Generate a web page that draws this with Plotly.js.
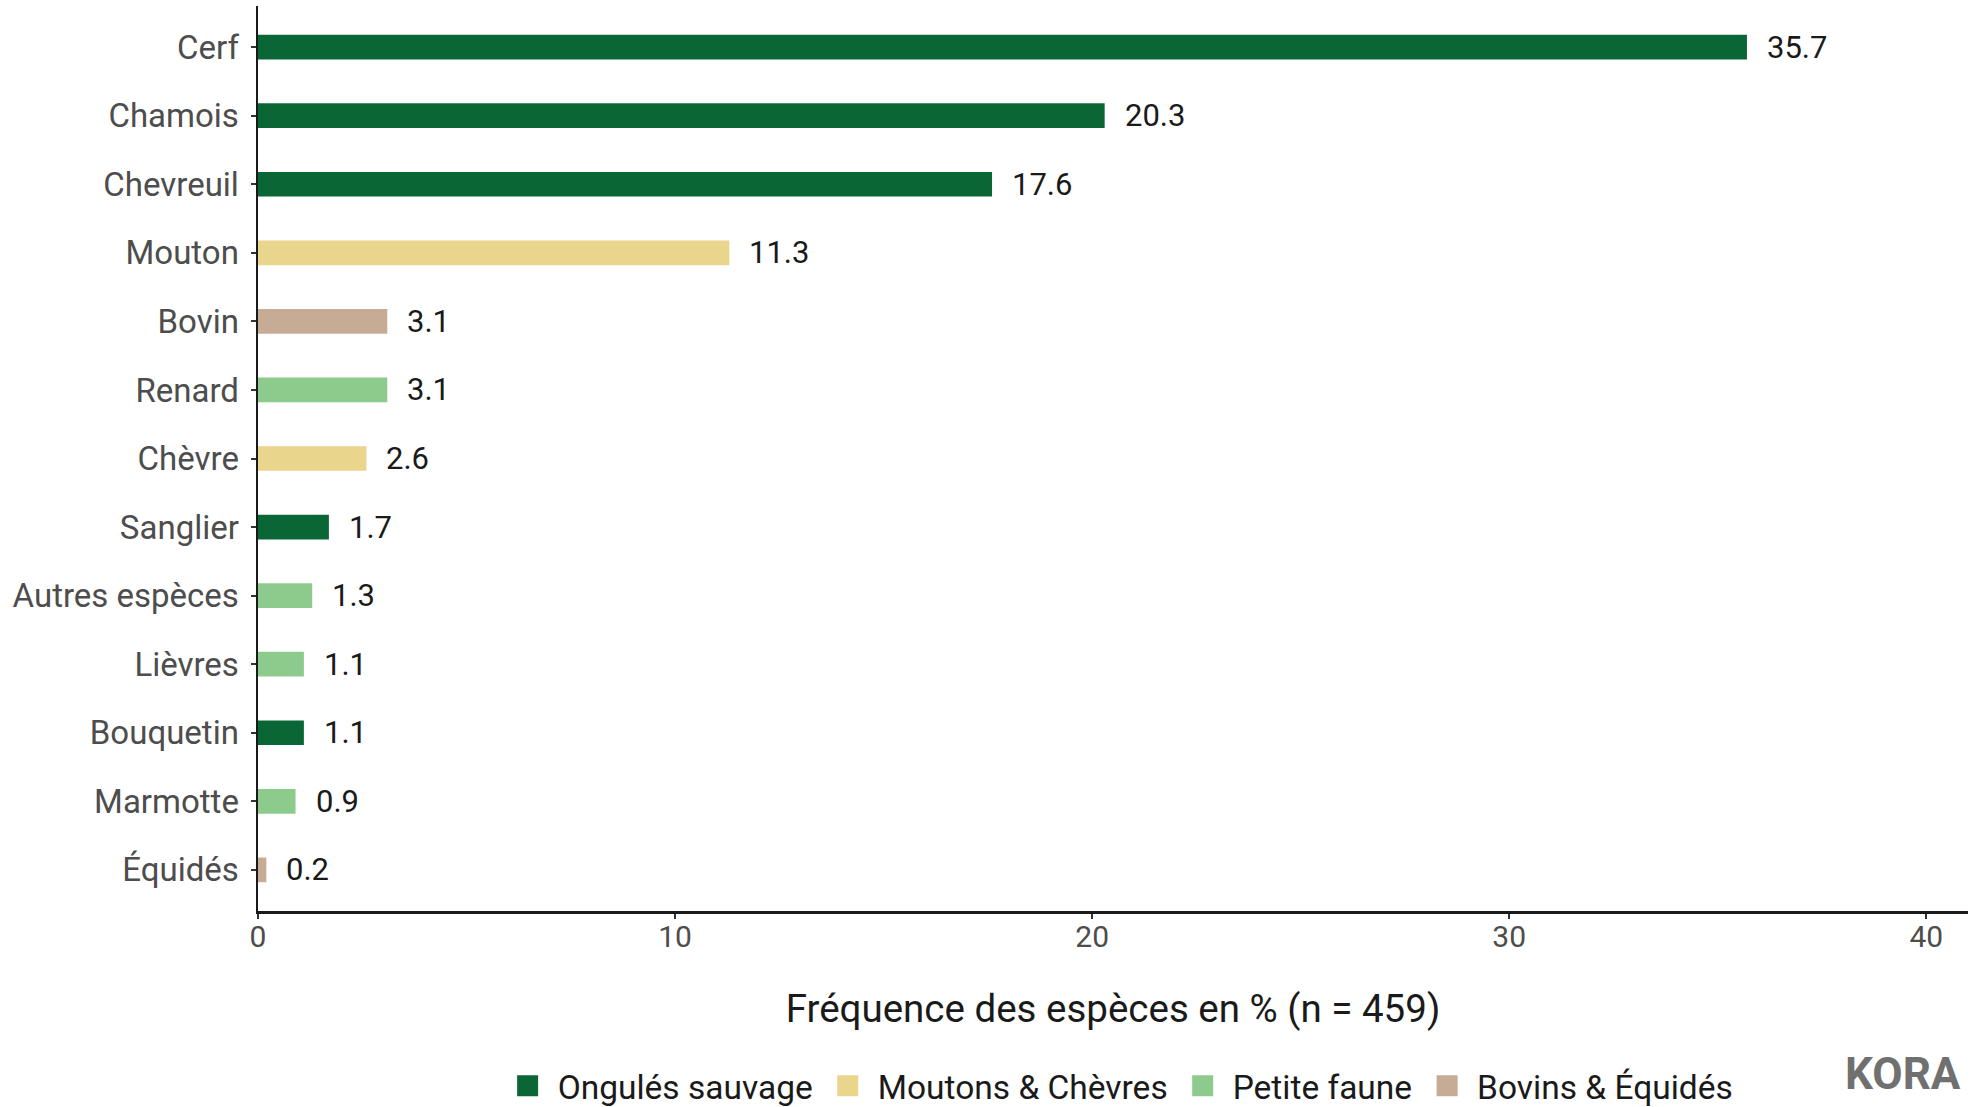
<!DOCTYPE html>
<html>
<head>
<meta charset="utf-8">
<script src="https://cdn.plot.ly/plotly-3.0.1.min.js"></script>
<style>html,body{margin:0;padding:0;background:#fff;}#chart{width:1975px;height:1107px;}</style>
</head>
<body>
<div id="chart"></div>
<script>
// Data (top to bottom)
const categories = ["Cerf","Chamois","Chevreuil","Mouton","Bovin","Renard","Chèvre","Sanglier","Autres espèces","Lièvres","Bouquetin","Marmotte","Équidés"];
const values = [35.7, 20.3, 17.6, 11.3, 3.1, 3.1, 2.6, 1.7, 1.3, 1.1, 1.1, 0.9, 0.2];
const groupOf = ["Ongulés sauvage","Ongulés sauvage","Ongulés sauvage","Moutons & Chèvres","Bovins & Équidés","Petite faune","Moutons & Chèvres","Ongulés sauvage","Petite faune","Petite faune","Ongulés sauvage","Petite faune","Bovins & Équidés"];
const groups = ["Ongulés sauvage","Moutons & Chèvres","Petite faune","Bovins & Équidés"];
const groupColors = ["#0b6636","#e9d58b","#8ccb8c","#c6ab95"];
const xTicks = [0,10,20,30,40];
const xTitle = "Fréquence des espèces en % (n = 459)";

const font = "Roboto, 'Open Sans', sans-serif";

const barTraces = groups.map((g, gi) => {
  const ys = [], xs = [];
  categories.forEach((c, i) => { if (groupOf[i] === g) { ys.push(c); xs.push(values[i]); } });
  return {
    type: "bar", orientation: "h", name: g, x: xs, y: ys,
    width: 0.36, legendgroup: g, showlegend: false,
    marker: {color: groupColors[gi], line: {width: 0}},
    hoverinfo: "x+y"
  };
});
// legend-only entries (larger square keys)
const legendTraces = groups.map((g, gi) => ({
  type: "scatter", mode: "markers", name: g, legendgroup: g,
  x: [null], y: [null], showlegend: true, hoverinfo: "skip",
  marker: {symbol: "square", size: 30, color: groupColors[gi], line: {width: 5, color: groupColors[gi]}}
}));

const annotations = categories.map((c, i) => ({
  x: values[i], y: c, xref: "x", yref: "y",
  text: values[i].toFixed(1), showarrow: false,
  xanchor: "left", yanchor: "middle", xshift: 18,
  font: {family: font, size: 31, color: "#1a1a1a"}
}));
annotations.push({
  xref: "paper", yref: "paper", x: 0.997, y: -0.18, xanchor: "right", yanchor: "middle",
  text: "<b>KORA</b>", showarrow: false,
  font: {family: font, size: 44, color: "#707070"}
});

const layout = {
  width: 1975, height: 1107,
  margin: {l: 258, r: 7, t: 6, b: 196},
  paper_bgcolor: "#ffffff", plot_bgcolor: "#ffffff",
  barmode: "overlay",
  showlegend: true,
  legend: {
    orientation: "h", x: 0.503, xanchor: "center",
    yref: "container", y: 0.019, yanchor: "middle",
    font: {family: font, size: 33.5, color: "#1a1a1a"},
    traceorder: "normal", itemwidth: 50, itemsizing: "trace"
  },
  xaxis: {
    range: [0, 41], tickvals: xTicks, ticktext: xTicks.map(String),
    showgrid: false, zeroline: false, automargin: false,
    showline: true, linecolor: "#1a1a1a", linewidth: 2.5,
    ticks: "outside", ticklen: 5, tickwidth: 2, tickcolor: "#333",
    ticklabelstandoff: -8,
    tickfont: {family: font, size: 30, color: "#4d4d4d"},
    title: {text: xTitle, font: {family: font, size: 38.5, color: "#1a1a1a"}, standoff: 43},
    fixedrange: true
  },
  yaxis: {
    type: "category", categoryorder: "array", categoryarray: categories,
    autorange: false, range: [categories.length - 0.4, -0.6],
    showgrid: false, zeroline: false, automargin: false,
    showline: true, linecolor: "#1a1a1a", linewidth: 2.5,
    ticks: "outside", ticklen: 5, tickwidth: 2, tickcolor: "#333",
    ticklabelstandoff: 5,
    tickfont: {family: font, size: 33, color: "#4d4d4d"},
    fixedrange: true
  },
  annotations: annotations,
  font: {family: font}
};

Plotly.newPlot("chart", barTraces.concat(legendTraces), layout, {displayModeBar: false, staticPlot: true});
</script>
</body>
</html>
